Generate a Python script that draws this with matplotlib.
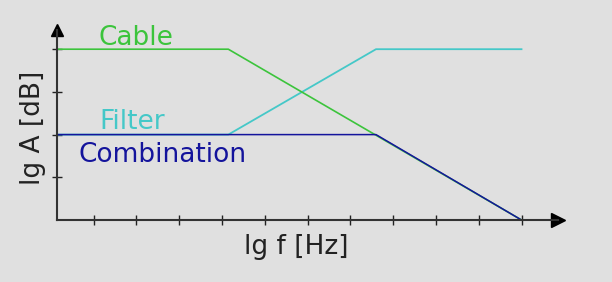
import matplotlib.pyplot as plt

# asymptotic Bode-style curves (x in tick units, y in tick units)
cable_x = [0.14, 4.15, 11.0]
cable_y = [4.0, 4.0, 0.0]
filter_x = [0.14, 4.15, 7.6, 11.0]
filter_y = [2.0, 2.0, 4.0, 4.0]
comb_x = [0.14, 7.6, 11.0]
comb_y = [2.0, 2.0, 0.0]
xticks = [1, 2, 3, 4, 5, 6, 7, 8, 9, 10, 11]
yticks = [1, 2, 3, 4]

bg = '#e0e0e0'
c_cable = '#3cc43c'
c_filter = '#45c8c8'
c_comb = '#14149c'

W, H = 612, 282
fig = plt.figure(figsize=(W / 100, H / 100), dpi=100, facecolor=bg)
# origin at (56.7, 220) px, right end 558 px, top 30 px
x0, y0, x1, y1 = 56.7, 220, 558, 30
ax = fig.add_axes([x0 / W, 1 - y0 / H, (x1 - x0) / W, (y0 - y1) / H])
ax.set_facecolor(bg)
ax.set_xlim(0.14, 0.14 + (x1 - x0) / 42.8)
ax.set_ylim(0, (y0 - y1) / 42.7)

ax.plot(filter_x, filter_y, color=c_filter, lw=1.3)
ax.plot(cable_x, cable_y, color=c_cable, lw=1.2)
ax.plot(comb_x, comb_y, color=c_comb, lw=1.1)

for s in ['top', 'right']:
    ax.spines[s].set_visible(False)
for s in ['left', 'bottom']:
    ax.spines[s].set_color('#333333')
    ax.spines[s].set_linewidth(1.5)

ax.set_xticks(xticks)
ax.set_yticks(yticks)
ax.set_xticklabels([])
ax.set_yticklabels([])
ax.tick_params(direction='inout', length=7, width=1, color='#222222')

# arrow heads
ax.plot(1, 0, '>', color='black', ms=10, transform=ax.transAxes, clip_on=False)
ax.plot(0, 1, '^', color='black', ms=9, transform=ax.transAxes, clip_on=False)

fs = 19
ax.text(1.12, 4.10, 'Cable', color=c_cable, fontsize=fs, va='baseline')
ax.text(1.14, 2.13, 'Filter', color=c_filter, fontsize=fs, va='baseline')
ax.text(0.66, 1.36, 'Combination', color=c_comb, fontsize=fs, va='baseline')

fig.text(296 / W, 1 - 254 / H, 'lg f [Hz]', color='#222222', fontsize=fs,
         ha='center', va='baseline')
fig.text(33 / W, 1 - 128 / H, 'lg A [dB]', color='#222222', fontsize=fs,
         ha='center', va='center', rotation=90)

fig.savefig('out.png', dpi=100, facecolor=bg)
